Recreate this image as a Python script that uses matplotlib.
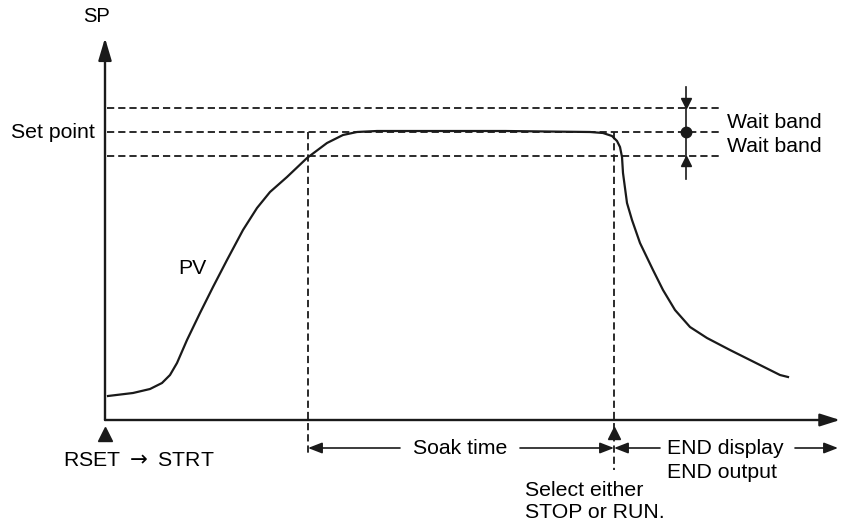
import matplotlib.pyplot as plt

plt.rcParams['font.family'] = ['Liberation Sans', 'DejaVu Sans']
plt.rcParams['mathtext.fontset'] = 'dejavusans'

# PV curve (time, value), 1 unit = 1 px
pv_time = [3, 28, 45, 57, 65, 72, 82, 95, 108, 122, 138, 152, 165, 182, 202,
           222, 238, 252, 272, 400, 485, 498, 507, 512, 515, 517, 518, 522,
           527, 535, 548, 558, 570, 585, 602, 625, 645, 665, 675, 683]
pv_value = [24, 27, 31, 37, 45, 57, 80, 107, 133, 160, 190, 212, 228, 243, 262,
            277, 285, 288, 289, 289, 288, 287, 284, 279, 273, 263, 247, 217,
            200, 177, 150, 130, 110, 93, 82, 70, 60, 50, 45, 43]

set_point = 288
wait_band = 24
soak_start = 203
soak_end = 509

fig = plt.figure(figsize=(8.44, 5.25), dpi=100)
ax = fig.add_axes([0, 0, 1, 1])
ax.set_xlim(-105, 739)
ax.set_ylim(-105, 420)
ax.axis('off')

fs = 15.3
k = '#1a1a1a'

# axes with arrows
ax.annotate('', xy=(0, 382), xytext=(0, 0),
            arrowprops=dict(arrowstyle='-|>,head_length=1.35,head_width=0.4',
                            color=k, lw=1.7, shrinkA=0, shrinkB=0))
ax.annotate('', xy=(735, 0), xytext=(0, 0),
            arrowprops=dict(arrowstyle='-|>,head_length=1.2,head_width=0.38',
                            color=k, lw=1.7, shrinkA=0, shrinkB=0))
ax.text(-8, 403, 'SP', fontsize=14.5, ha='center', va='center')

# set point and wait band lines
dash = (0, (4, 2.2))
for lev in [set_point + wait_band, set_point, set_point - wait_band]:
    ax.plot([2, 615], [lev, lev], color=k, lw=1.3, linestyle=dash)
ax.text(-10, set_point, 'Set point', fontsize=fs, ha='right', va='center')

# soak verticals
ax.plot([soak_start, soak_start], [set_point, -35], color=k, lw=1.3, linestyle=dash)
ax.plot([soak_end, soak_end], [set_point, -50], color=k, lw=1.3, linestyle=dash)

# PV
ax.plot(pv_time, pv_value, color=k, lw=1.6, solid_joinstyle='round')
ax.text(87, 152, 'PV', fontsize=fs, ha='center', va='center')

# wait band marker
wx = 581
ax.plot([wx, wx], [set_point - wait_band - 23, set_point + wait_band + 21], color=k, lw=1.2)
ax.plot(wx, set_point + wait_band + 5, marker='v', ms=7, color=k)
ax.plot(wx, set_point - wait_band - 5, marker='^', ms=7, color=k)
ax.plot(wx, set_point, marker='o', ms=7.5, color=k)
ax.text(622, set_point + 10, 'Wait band', fontsize=fs, ha='left', va='center')
ax.text(622, set_point - 14, 'Wait band', fontsize=fs, ha='left', va='center')

# start / stop markers under axis
ax.plot(0, -14, marker='^', ms=10, color=k)
ax.plot(soak_end, -13, marker='^', ms=8, color=k)
ax.text(34, -40, r'RSET $\rightarrow$ STRT', fontsize=fs, ha='center', va='center')

# soak time arrows
ay = -28
hs = 'head_length=0.85,head_width=0.33'
ax.annotate('', xy=(soak_start, ay), xytext=(295, ay),
            arrowprops=dict(arrowstyle='-|>,' + hs, color=k, lw=1.2, shrinkA=0, shrinkB=0))
ax.annotate('', xy=(soak_end, ay), xytext=(415, ay),
            arrowprops=dict(arrowstyle='-|>,' + hs, color=k, lw=1.2, shrinkA=0, shrinkB=0))
ax.text(355, ay, 'Soak time', fontsize=fs, ha='center', va='center')

ax.annotate('', xy=(soak_end, ay), xytext=(555, ay),
            arrowprops=dict(arrowstyle='-|>,' + hs, color=k, lw=1.2, shrinkA=0, shrinkB=0))
ax.annotate('', xy=(733, ay), xytext=(690, ay),
            arrowprops=dict(arrowstyle='-|>,' + hs, color=k, lw=1.2, shrinkA=0, shrinkB=0))
ax.text(562, ay, 'END display', fontsize=fs, ha='left', va='center')
ax.text(562, -53, 'END output', fontsize=fs, ha='left', va='center')

ax.text(420, -70, 'Select either', fontsize=fs, ha='left', va='center')
ax.text(420, -92, 'STOP or RUN.', fontsize=fs, ha='left', va='center')

fig.savefig('out.png', dpi=100)
